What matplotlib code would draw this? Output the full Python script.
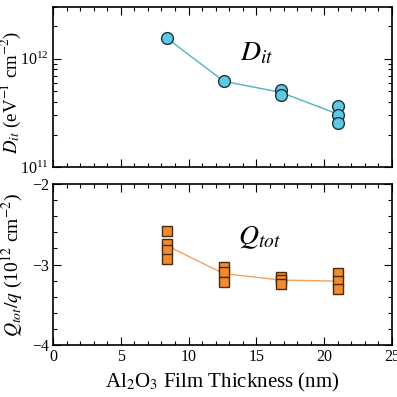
import numpy as np
import matplotlib
matplotlib.use("Agg")
import matplotlib.pyplot as plt
from matplotlib.ticker import MultipleLocator, LogLocator, NullFormatter

plt.rcParams["font.family"] = ["Liberation Serif", "DejaVu Serif"]
plt.rcParams["mathtext.fontset"] = "stix"

# Al2O3 thickness (nm) and measured values per sample
thickness = [8.4, 12.6, 16.8, 21.0]
dit = [
    [1.55e12],
    [6.2e11],
    [5.15e11, 4.65e11],
    [3.65e11, 3.06e11, 2.57e11],
]
qtot = [
    [-2.58, -2.74, -2.82, -2.93],
    [-3.03, -3.09, -3.22],
    [-3.15, -3.19, -3.24],
    [-3.10, -3.21, -3.31],
]


def setup_axis(ax):
    ax.tick_params(which="both", direction="in", top=True, right=True,
                   labelsize=11.5, pad=3)
    ax.tick_params(which="major", length=6, width=0.8)
    ax.tick_params(which="minor", length=3, width=0.8)
    ax.set_xlim(0, 25)
    ax.xaxis.set_major_locator(MultipleLocator(5))
    ax.xaxis.set_minor_locator(MultipleLocator(1))
    for sp in ax.spines.values():
        sp.set_linewidth(1.2)


fig = plt.figure(figsize=(3.97, 3.97), dpi=100)
ax1 = fig.add_axes([0.1335, 0.579, 0.854, 0.403])
ax2 = fig.add_axes([0.1335, 0.131, 0.854, 0.4055])

# top: interface trap density
dit_mean = [np.mean(v) for v in dit]
ax1.plot(thickness, dit_mean, color="#4fb3c4", lw=1.0, zorder=1)
for x, vals in zip(thickness, dit):
    ax1.plot([x] * len(vals), vals, "o", ms=8.5, mfc="#5cc8e4", mec="#1c3338",
             mew=1.0, ls="none", zorder=2)
ax1.set_yscale("log")
ax1.set_ylim(1e11, 3e12)
ax1.yaxis.set_major_locator(LogLocator(base=10, numticks=5))
ax1.yaxis.set_minor_locator(LogLocator(base=10, subs=np.arange(2, 10), numticks=12))
ax1.yaxis.set_minor_formatter(NullFormatter())
setup_axis(ax1)
ax1.tick_params(labelbottom=False)
ax1.set_ylabel(r"$D_{it}$ (eV$^{-1}$ cm$^{-2}$)", fontsize=13.5, va="center")
ax1.yaxis.set_label_coords(-0.125, 0.47)
ax1.text(0.6, 0.71, r"$D_{it}$", transform=ax1.transAxes, fontsize=20,
         ha="center", va="center")

# bottom: total charge
q_mean = [np.mean(v) for v in qtot]
ax2.plot(thickness, q_mean, color="#f4a262", lw=1.0, zorder=1)
for x, vals in zip(thickness, qtot):
    ax2.plot([x] * len(vals), vals, "s", ms=7.8, mfc="#f28a2e", mec="#4a2a10",
             mew=1.0, ls="none", zorder=2)
ax2.set_ylim(-4, -2)
ax2.yaxis.set_major_locator(MultipleLocator(1))
ax2.yaxis.set_minor_locator(MultipleLocator(0.2))
setup_axis(ax2)
ax2.set_ylabel(r"$Q_{tot}/q$ (10$^{12}$ cm$^{-2}$)", fontsize=14, va="center")
ax2.yaxis.set_label_coords(-0.12, 0.5)
ax2.set_xlabel(r"Al$_2$O$_3$ Film Thickness (nm)", fontsize=15, labelpad=4)
ax2.text(0.61, 0.665, r"$Q_{tot}$", transform=ax2.transAxes, fontsize=20,
         ha="center", va="center")

fig.savefig("out.png", dpi=100)
